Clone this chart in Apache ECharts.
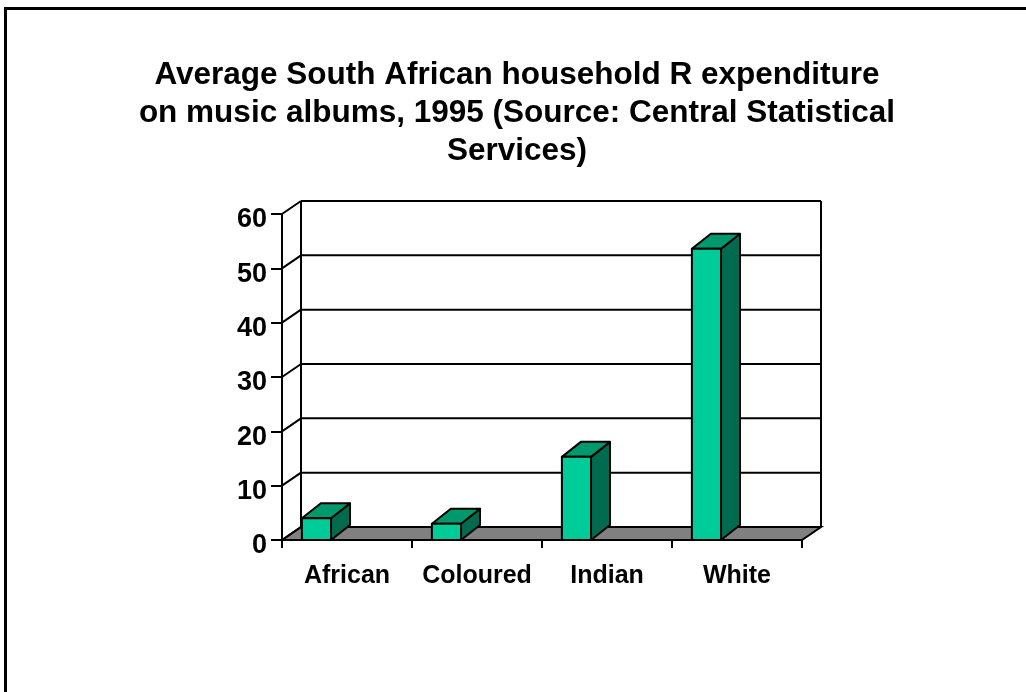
<!DOCTYPE html>
<html>
<head>
<meta charset="utf-8">
<script src="https://cdn.jsdelivr.net/npm/echarts@6/dist/echarts.min.js"></script>
<style>
html,body{margin:0;padding:0;background:#fff;}
#chart{width:1026px;height:692px;}
</style>
</head>
<body>
<div id="chart"></div>
<script>
var titleLines = ['Average South African household R expenditure', 'on music albums, 1995 (Source: Central Statistical', 'Services)'];
var categories = ['African', 'Coloured', 'Indian', 'White'];
var values = [4, 3, 15.3, 53.6];
var yTicks = [0, 10, 20, 30, 40, 50, 60];

var WALL_DX = 19, WALL_DY = -13;
var BAR_DX = 19, BAR_DY = -15;
var FONT = '"Liberation Sans", Arial, sans-serif';

var chart = echarts.init(document.getElementById('chart'), null, {renderer: 'canvas'});

function renderFrame(params, api) {
  var cs = params.coordSys;
  var L = cs.x, R = cs.x + cs.width, B = api.coord([0, 0])[1];
  var children = [];
  var line = {stroke: '#000', lineWidth: 2};
  children.push({
    type: 'polygon',
    shape: {points: [[L, B], [R, B], [R + WALL_DX, B + WALL_DY], [L + WALL_DX, B + WALL_DY]]},
    style: {fill: '#808080', stroke: '#000', lineWidth: 2}
  });
  var topY = api.coord([0, yTicks[yTicks.length - 1]])[1];
  yTicks.forEach(function (v) {
    var y = api.coord([0, v])[1];
    if (v > 0) {
      children.push({type: 'line', shape: {x1: L + WALL_DX, y1: y + WALL_DY, x2: R + WALL_DX, y2: y + WALL_DY}, style: line});
    }
    children.push({type: 'line', shape: {x1: L, y1: y, x2: L + WALL_DX, y2: y + WALL_DY}, style: line});
  });
  children.push({type: 'line', shape: {x1: L + WALL_DX, y1: topY + WALL_DY, x2: L + WALL_DX, y2: B + WALL_DY}, style: line});
  children.push({type: 'line', shape: {x1: R + WALL_DX, y1: topY + WALL_DY, x2: R + WALL_DX, y2: B + WALL_DY}, style: line});
  return {type: 'group', children: children};
}

function renderBar(params, api) {
  var idx = api.value(0), val = api.value(1);
  var base = api.coord([idx, 0]);
  var top = api.coord([idx, val]);
  var bw = api.size([1, 0])[0];
  var x0 = base[0] - 0.347 * bw;
  var w = 0.224 * bw;
  var yb = base[1], yt = top[1];
  var st = {stroke: '#000', lineWidth: 2, lineJoin: 'round'};
  return {
    type: 'group',
    children: [
      {type: 'polygon', shape: {points: [[x0 + w, yt], [x0 + w + BAR_DX, yt + BAR_DY], [x0 + w + BAR_DX, yb + BAR_DY], [x0 + w, yb]]},
       style: Object.assign({fill: '#006B4F'}, st)},
      {type: 'polygon', shape: {points: [[x0, yt], [x0 + w, yt], [x0 + w + BAR_DX, yt + BAR_DY], [x0 + BAR_DX, yt + BAR_DY]]},
       style: Object.assign({fill: '#00996E'}, st)},
      {type: 'rect', shape: {x: x0, y: yt, width: w, height: yb - yt},
       style: Object.assign({fill: '#00CC99'}, st)}
    ]
  };
}

chart.setOption({
  animation: false,
  backgroundColor: '#fff',
  graphic: [
    {type: 'rect', shape: {x: 5.5, y: 8.5, width: 1040, height: 700}, style: {fill: 'none', stroke: '#000', lineWidth: 3}, z: 100},
    {type: 'text', x: 517, y: 56, style: {text: titleLines.join('\n'), font: 'bold 31.5px ' + FONT, fill: '#000', textAlign: 'center', lineHeight: 38}}
  ],
  grid: {left: 282, right: 224, top: 214, bottom: 152, containLabel: false},
  xAxis: {
    type: 'category',
    data: categories,
    boundaryGap: true,
    axisLine: {show: true, lineStyle: {color: '#000', width: 2}},
    axisTick: {show: true, interval: 0, length: 8, alignWithLabel: false, lineStyle: {color: '#000', width: 2}},
    axisLabel: {interval: 0, margin: 24, color: '#000', fontSize: 25, fontWeight: 'bold', fontFamily: FONT},
    splitLine: {show: false},
    z: 5
  },
  yAxis: {
    type: 'value',
    min: 0, max: 60, interval: 10,
    axisLine: {show: true, lineStyle: {color: '#000', width: 2}},
    axisTick: {show: true, length: 11, lineStyle: {color: '#000', width: 2}},
    axisLabel: {
      margin: 15,
      formatter: function (v) { return '{t|' + v + '}'; },
      rich: {t: {color: '#000', fontSize: 27, fontWeight: 'bold', fontFamily: FONT, padding: [12, 0, 0, 0]}}
    },
    splitLine: {show: false},
    z: 5
  },
  series: [
    {type: 'custom', name: 'frame', data: [[0, 0]], renderItem: renderFrame, z: 1, silent: true},
    {type: 'custom', name: 'bars', data: values.map(function (v, i) { return [i, v]; }), renderItem: renderBar, z: 10,
     encode: {x: 0, y: 1}}
  ]
});
</script>
</body>
</html>
